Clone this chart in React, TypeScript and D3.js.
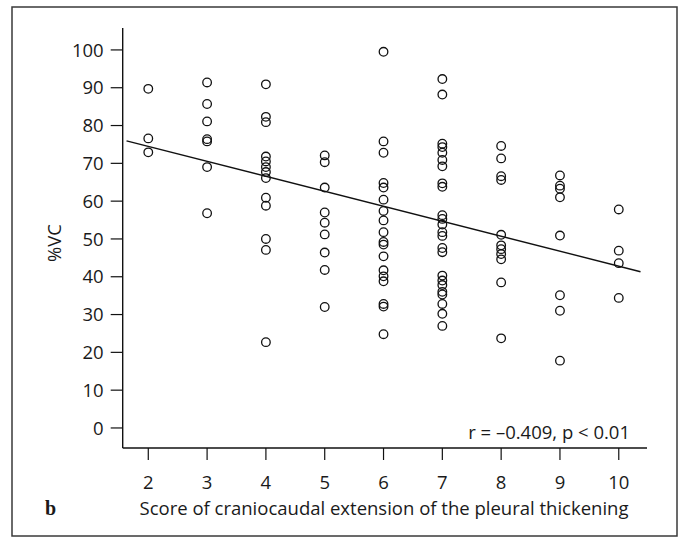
import React from "react";
import * as d3 from "d3";

// Score of craniocaudal extension (x) and %VC readings per score
const scores = [2, 3, 4, 5, 6, 7, 8, 9, 10];
const vcScore2 = [89.7, 76.6, 72.9];
const vcScore3 = [91.4, 85.7, 81.1, 76.4, 75.8, 69.0, 56.8];
const vcScore4 = [90.9, 82.3, 80.9, 71.8, 70.5, 69.0, 67.7, 66.1, 60.9, 58.8, 50.0, 47.1, 22.7];
const vcScore5 = [72.1, 70.3, 63.6, 57.0, 54.3, 51.2, 46.4, 41.8, 32.0];
const vcScore6 = [99.5, 75.8, 72.8, 64.8, 63.6, 60.4, 57.4, 54.9, 51.8, 49.2, 48.5, 45.4, 41.7, 40.1, 38.8, 32.8, 32.1, 24.8];
const vcScore7 = [92.3, 88.2, 75.2, 74.3, 72.8, 70.9, 69.2, 64.7, 63.8, 56.3, 55.3, 53.8, 51.8, 50.8, 47.6, 46.5, 40.3, 39.0, 37.8, 36.0, 35.3, 32.8, 30.2, 27.0];
const vcScore8 = [74.6, 71.3, 66.6, 65.6, 51.1, 48.3, 47.3, 46.0, 44.6, 38.5, 23.7];
const vcScore9 = [66.8, 64.1, 63.3, 61.0, 50.9, 35.1, 31.0, 17.8];
const vcScore10 = [57.8, 46.9, 43.6, 34.4];
const vcByScore = [vcScore2, vcScore3, vcScore4, vcScore5, vcScore6, vcScore7, vcScore8, vcScore9, vcScore10];

// Tick values
const yTicks = [0, 10, 20, 30, 40, 50, 60, 70, 80, 90, 100];
const xTicks = scores;

// Fitted regression line: %VC = intercept + slope * score, drawn over fitExtent
const fitIntercept = 82.4;
const fitSlope = -3.96;
const fitExtent = [1.63, 10.37];
const statsLabel = "r = \u20130.409, p < 0.01";

const W = 684;
const H = 540;
const FONT = "'Open Sans', 'Noto Sans', sans-serif";
const FS = 18.5;

export default function App() {
  const x = d3.scaleLinear().domain([1.565, 10.48]).range([122.7, 647]);
  const y = d3.scaleLinear().domain([-5.3, 105.8]).range([448, 28]);

  const points = scores.flatMap((s, i) => vcByScore[i].map((v) => ({ s, v })));

  const fitLine = d3
    .line<number>()
    .x((s) => x(s))
    .y((s) => y(fitIntercept + fitSlope * s))(fitExtent);

  const [x0, x1] = x.range();
  const [yBottom, yTop] = y.range();

  return (
    <svg
      width={W}
      height={H}
      style={{ position: "absolute", left: 0, top: 0, background: "#fff" }}
      fontFamily={FONT}
    >
      <rect x={0} y={0} width={W} height={H} fill="#fff" />
      {/* outer frame */}
      <rect x={12} y={7} width={665} height={529} fill="none" stroke="#3a3a3a" strokeWidth={1.5} />

      {/* axes */}
      <line x1={x0} x2={x0} y1={yTop} y2={yBottom} stroke="#111" strokeWidth={1.4} />
      <line x1={x0} x2={x1} y1={yBottom} y2={yBottom} stroke="#111" strokeWidth={1.4} />

      {yTicks.map((t) => (
        <g key={"y" + t}>
          <line x1={x0 - 12} x2={x0} y1={y(t)} y2={y(t)} stroke="#111" strokeWidth={1.2} />
          <text x={x0 - 19} y={y(t)} dy="0.36em" textAnchor="end" fontSize={FS} fill="#1a1a1a">
            {t}
          </text>
        </g>
      ))}

      {xTicks.map((t) => (
        <g key={"x" + t}>
          <line x1={x(t)} x2={x(t)} y1={yBottom} y2={yBottom + 12} stroke="#111" strokeWidth={1.2} />
          <text x={x(t)} y={489} textAnchor="middle" fontSize={FS} fill="#1a1a1a">
            {t}
          </text>
        </g>
      ))}

      {/* axis titles */}
      <text
        transform={`translate(61,243) rotate(-90)`}
        textAnchor="middle"
        fontSize={FS}
        fill="#1a1a1a"
      >
        %VC
      </text>
      <text x={384} y={515} textAnchor="middle" fontSize={FS} fill="#1a1a1a">
        Score of craniocaudal extension of the pleural thickening
      </text>
      <text x={45} y={515} fontSize={20} fontWeight="bold" fontFamily="'Liberation Serif', serif" fill="#1a1a1a">
        b
      </text>

      {/* regression line */}
      <path d={fitLine ?? ""} fill="none" stroke="#111" strokeWidth={1.4} />

      {/* data points */}
      {points.map((p, i) => (
        <circle key={i} cx={x(p.s)} cy={y(p.v)} r={4.3} fill="none" stroke="#111" strokeWidth={1.3} />
      ))}

      <text x={630} y={439} textAnchor="end" fontSize={FS} fill="#1a1a1a">
        {statsLabel}
      </text>
    </svg>
  );
}
